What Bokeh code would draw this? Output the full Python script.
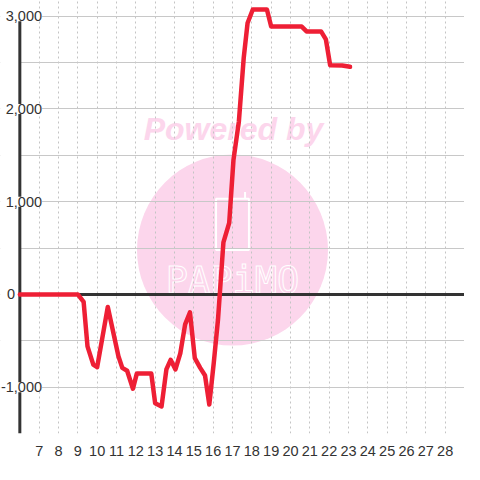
from bokeh.plotting import figure
from bokeh.models import Range1d, FixedTicker, Label, BoxAnnotation
from bokeh.core.properties import value
from bokeh.embed import file_html
from bokeh.resources import INLINE

# ---- data ----
hours = [6.0, 9.0, 9.3, 9.5, 9.8, 10.0, 10.55, 11.1, 11.3, 11.55, 11.85, 12.05,
         12.8, 13.0, 13.33, 13.58, 13.8, 14.05, 14.3, 14.55, 14.8, 15.05, 15.33,
         15.58, 15.8, 16.03, 16.25, 16.53, 16.83, 17.05, 17.33, 17.58, 17.78,
         18.05, 18.78, 19.0, 20.58, 20.83, 21.58, 21.83, 22.05, 22.67, 23.08]
balance = [0, 0, -80, -560, -757, -785, -135, -667, -792, -823, -1017, -854,
           -854, -1174, -1208, -809, -705, -809, -635, -323, -194, -687, -792,
           -875, -1188, -740, -271, 562, 771, 1450, 1865, 2550, 2927,
           3073, 3073, 2889, 2889, 2837, 2837, 2750, 2472, 2469, 2455]

x_ticks = [7, 8, 9, 10, 11, 12, 13, 14, 15, 16, 17, 18, 19, 20, 21, 22, 23,
           24, 25, 26, 27, 28]
y_grid_ticks = [-1500, -1000, -500, 0, 500, 1000, 1500, 2000, 2500, 3000]
y_label_values = [-1000, 1000, 2000, 3000]
y_label_texts = ["-1,000", "1,000", "2,000", "3,000"]
zero_label = "0"

X_START, X_AXIS, X_END = 5, 6, 29
Y_MIN, Y_AXIS_TOP, Y_MAX = -1500, 3000, 3170

PINK = "#fcd6ec"
TEXT = "#333333"
FONT = "Liberation Sans"

p = figure(width=464, height=464, output_backend="svg", toolbar_location=None,
           x_range=Range1d(X_START, X_END), y_range=Range1d(Y_MIN, Y_MAX),
           y_axis_location=None, min_border_left=0, min_border_right=0,
           min_border_top=0, min_border_bottom=31)
p.outline_line_color = None
p.background_fill_color = "white"
p.border_fill_color = "white"

# grids
p.xgrid.ticker = FixedTicker(ticks=x_ticks)
p.xgrid.grid_line_color = "#c4c4c4"
p.xgrid.grid_line_dash = "2 3"
p.xgrid.grid_line_width = 1
p.ygrid.ticker = FixedTicker(ticks=y_grid_ticks)
p.ygrid.grid_line_color = "#c8c8c8"
p.ygrid.grid_line_width = 1

# blank area left of the y axis line
p.add_layout(BoxAnnotation(right=X_AXIS, fill_color="white", fill_alpha=1,
                           line_color=None, level="underlay"))

# x axis
p.xaxis.ticker = FixedTicker(ticks=x_ticks)
p.xaxis.axis_line_color = None
p.xaxis.major_tick_line_color = None
p.xaxis.minor_tick_line_color = None
p.xaxis.major_label_standoff = 6
p.xaxis.major_label_text_font = FONT
p.xaxis.major_label_text_font_size = "14.5px"
p.xaxis.major_label_text_color = TEXT

# watermark (below the grid)
p.scatter([17.0], [479], marker="circle", size=191, fill_color=PINK,
          line_color=None, level="image")
p.text([17.05], [1781], text=["Powered by"], text_font=value(FONT),
       text_font_style="bold italic", text_font_size="32px", text_color=PINK,
       text_align="center", text_baseline="middle", level="image")
p.quad(left=[16.15], right=[17.85], bottom=[479], top=[1031], fill_color=None,
       line_color="white", line_width=2, level="image")
p.segment(x0=[17.65], y0=[1031], x1=[17.65], y1=[1104], line_color="white",
          line_width=2, level="image")
p.text([17.0], [146], text=["PAPiMO"], text_font=value("DejaVu Sans Mono"),
       text_font_size="37px", text_color=PINK, text_outline_color="white",
       text_align="center", text_baseline="middle", level="image")

# axis line and zero line
p.segment(x0=[X_AXIS], y0=[Y_MIN], x1=[X_AXIS], y1=[Y_AXIS_TOP],
          line_color=TEXT, line_width=3)
p.segment(x0=[X_AXIS], y0=[0], x1=[X_END], y1=[0], line_color=TEXT,
          line_width=3)

# series
p.line(hours, balance, line_color="#ee1f35", line_width=4.5,
       line_join="round", line_cap="round")

# y labels with white boxes
for v, t in zip(y_label_values, y_label_texts):
    p.add_layout(Label(x=7.15, y=v, text=t, text_align="right",
                       text_baseline="middle", text_font=FONT,
                       text_font_size="14.5px", text_color=TEXT,
                       background_fill_color="white"))
p.add_layout(Label(x=5.75, y=0, text=zero_label, text_align="right",
                   text_baseline="middle", text_font=FONT,
                   text_font_size="14.5px", text_color=TEXT,
                   background_fill_color="white"))

open("out.html", "w").write(file_html(p, INLINE))
